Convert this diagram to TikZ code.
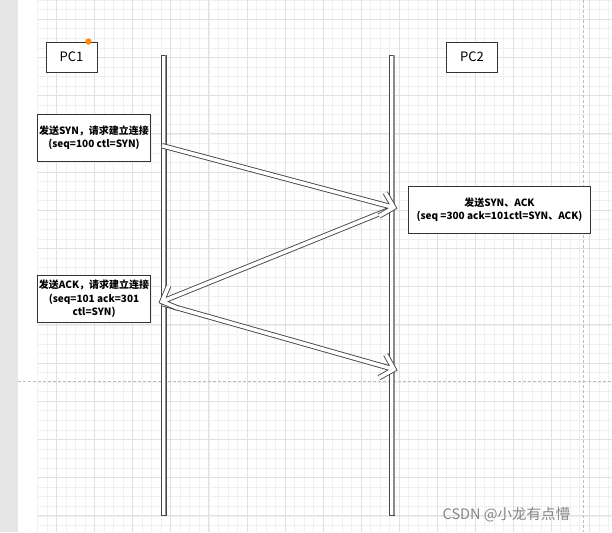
\documentclass[tikz,border=0pt]{standalone}
\usepackage{fontspec}
\setmainfont{Noto Sans CJK SC}
\usetikzlibrary{calc}
\definecolor{gridmajor}{HTML}{E0E0E0}
\definecolor{gridminor}{HTML}{F0F0F0}
\definecolor{stripc}{HTML}{E6E6E6}
\definecolor{linec}{HTML}{484848}
\definecolor{boxc}{HTML}{333333}
\definecolor{dotc}{HTML}{FF8A14}
\definecolor{dashc}{HTML}{BDBDBD}
\newcommand\hollowarrow[2]{%
  \foreach \w/\c in {5.4pt/linec,3.6pt/white}{%
    \draw[line width=\w, draw=\c, line join=miter, line cap=butt]
      (#1) -- (#2)
      ($(#2)!17pt!-45:(#1)$) -- (#2) -- ($(#2)!17pt!45:(#1)$);
  }%
}
\begin{document}
\begin{tikzpicture}[x=1pt,y=-1pt,
  pcbox/.style={draw=boxc, line width=0.9pt, fill=white, minimum width=51pt, minimum height=30pt,
    inner sep=0pt, font=\fontsize{13}{15}\selectfont},
  msgbox/.style={draw=boxc, line width=0.9pt, fill=white, inner sep=0pt, align=center,
    font=\bfseries\fontsize{10}{13.4}\selectfont},
  lifeline/.style={draw=linec, line width=0.8pt, fill=white, minimum width=4.6pt, inner sep=0pt}]
\useasboundingbox (0,0) rectangle (612,532);
% background
\fill[white] (0,0) rectangle (612,532);
\fill[stripc] (0,0) rectangle (18,532);
\foreach \k in {0,...,60} \draw[gridminor, line width=0.8pt] ({37.675+9.5125*\k},0) -- ++(0,532);
\foreach \k in {-2,...,54} \draw[gridminor, line width=0.8pt] (37.7,{19.3+9.55*\k}) -- (612,{19.3+9.55*\k});
\foreach \k in {0,...,14} \draw[gridmajor, line width=0.9pt] ({56.7+38.05*\k},0) -- ++(0,532);
\foreach \k in {0,...,13} \draw[gridmajor, line width=0.9pt] (37.7,{19.3+38.2*\k}) -- (612,{19.3+38.2*\k});
\draw[dashc, line width=0.8pt, dash pattern=on 3pt off 2pt] (18,381.3) -- (612,381.3);
\draw[dashc, line width=0.8pt, dash pattern=on 3pt off 2pt] (583.8,0) -- (583.8,532);
% lifelines
\node[lifeline, minimum height=460.5pt] (l1) at (163.7,285.25) {};
\node[lifeline, minimum height=460.5pt] (l2) at (392.1,285.25) {};
\draw[black!45, line width=1.4pt] ([xshift=-0.7pt,yshift=-0.6pt]l1.north east) -- ([xshift=-0.7pt,yshift=0.6pt]l1.south east);
\draw[black!45, line width=1.4pt] ([xshift=-0.7pt,yshift=-0.6pt]l2.north east) -- ([xshift=-0.7pt,yshift=0.6pt]l2.south east);
% heads
\node[pcbox] (pc1) at (71.5,57) {PC1};
\node[pcbox] (pc2) at (472,57) {PC2};
\fill[dotc] (pc1.north east) ++(-9,0) circle (3.2pt);
% messages
\node[msgbox, minimum width=113.4pt, minimum height=46.7pt] (m1) at (94,137.7)
  {发送SYN，请求建立连接\\(seq=100 ctl=SYN)};
\node[msgbox, minimum width=182.4pt, minimum height=46.6pt] (m2) at (499.5,210)
  {发送SYN、ACK\\(seq =300 ack=101ctl=SYN、ACK)};
\node[msgbox, minimum width=113.4pt, minimum height=47.7pt] (m3) at (94,298.8)
  {发送ACK，请求建立连接\\(seq=101 ack=301\\ctl=SYN)};
% arrow end points on the lifelines
\coordinate (a1s) at (162,145.7);
\coordinate (a1e) at (393.8,207.5);
\coordinate (a2s) at (392,208.5);
\coordinate (a2e) at (162,301.5);
\coordinate (a3s) at (162,303.5);
\coordinate (a3e) at (394,369.3);
\hollowarrow{a3s}{a3e}
\hollowarrow{a2s}{a2e}
\hollowarrow{a1s}{a1e}
% watermark
\node[anchor=west, text=black!48, inner sep=0pt, font=\fontsize{14.5}{16}\selectfont] (wm) at (442.5,514.5) {CSDN @小龙有点懵};
\end{tikzpicture}
\end{document}
